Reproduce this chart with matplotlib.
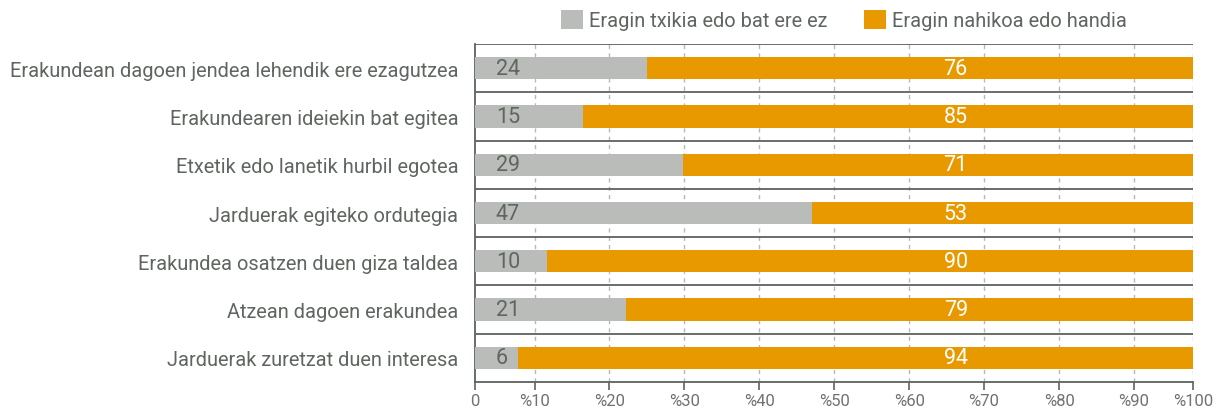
import matplotlib
matplotlib.use("Agg")
import matplotlib.pyplot as plt
from matplotlib.patches import Patch

categories = [
    "Erakundean dagoen jendea lehendik ere ezagutzea",
    "Erakundearen ideiekin bat egitea",
    "Etxetik edo lanetik hurbil egotea",
    "Jarduerak egiteko ordutegia",
    "Erakundea osatzen duen giza taldea",
    "Atzean dagoen erakundea",
    "Jarduerak zuretzat duen interesa",
]
low_values = [24, 15, 29, 47, 10, 21, 6]
high_values = [76, 85, 71, 53, 90, 79, 94]
series_names = ["Eragin txikia edo bat ere ez", "Eragin nahikoa edo handia"]
xtick_labels = ["0", "%10", "%20", "%30", "%40", "%50", "%60", "%70", "%80", "%90", "%100"]
# tick/grid positions as they appear in the reference (not evenly spaced)
xtick_positions = [0, 8.3, 18.7, 29.15, 39.6, 50.05, 60.5, 70.9, 81.35, 91.8, 100]

GRAY = "#b9bcb8"
ORANGE = "#e89900"
TEXT = "#5f6660"
TICKTXT = "#6e736f"
SEP = "#5c635d"

plt.rcParams["font.family"] = ["Roboto", "DejaVu Sans"]
W = "normal"
FS = 14.4

fig = plt.figure(figsize=(12.17, 4.10), dpi=100)
ax = fig.add_axes([475/1217, 1-383/410, (1193-475)/1217, (383-45)/410])

n = len(categories)
ys = list(range(n))
ax.barh(ys, low_values, height=0.46, color=GRAY, zorder=3)
ax.barh(ys, high_values, left=low_values, height=0.46, color=ORANGE, zorder=3)

for y, lv, hv in zip(ys, low_values, high_values):
    ax.text(2.9, y, str(lv), ha="left", va="center", color=TEXT, fontsize=15.5,
            fontweight=W, zorder=4)
    ax.text(66.95, y, str(hv), ha="center", va="center", color="white", fontsize=15.5,
            fontweight=W, zorder=4)

ax.set_xlim(0, 100)
ax.set_ylim(n - 0.5, -0.5)

for b in range(n):
    ax.axhline(b - 0.5, color=SEP, lw=1.3, zorder=2)

for v in xtick_positions[1:]:
    ax.axvline(v, color="#b5b8b5", lw=1, ls=(0, (3, 3)), zorder=1)

ax.set_xticks(xtick_positions)
ax.set_xticklabels(xtick_labels, color=TICKTXT, fontsize=12, fontweight=W)
ax.tick_params(axis="x", direction="out", length=6, color=SEP, width=1.2, pad=2)
ax.set_yticks(ys)
ax.set_yticklabels(categories, color=TEXT, fontsize=FS, fontweight=W)
ax.tick_params(axis="y", length=0, pad=12)

for s in ["top", "right"]:
    ax.spines[s].set_visible(False)
for s in ["left", "bottom"]:
    ax.spines[s].set_color(SEP)
    ax.spines[s].set_linewidth(1.3)

handles = [Patch(facecolor=GRAY, edgecolor="none"), Patch(facecolor=ORANGE, edgecolor="none")]
leg = fig.legend(handles, series_names, loc="center", bbox_to_anchor=(844/1217, 1-21/410),
                 ncol=2, frameon=False, fontsize=FS, handlelength=1.1, handleheight=1.1,
                 handletextpad=0.3, columnspacing=1.85, borderpad=0, borderaxespad=0)
for t in leg.get_texts():
    t.set_color(TEXT)
    t.set_fontweight(W)

fig.savefig("out.png", dpi=100)
